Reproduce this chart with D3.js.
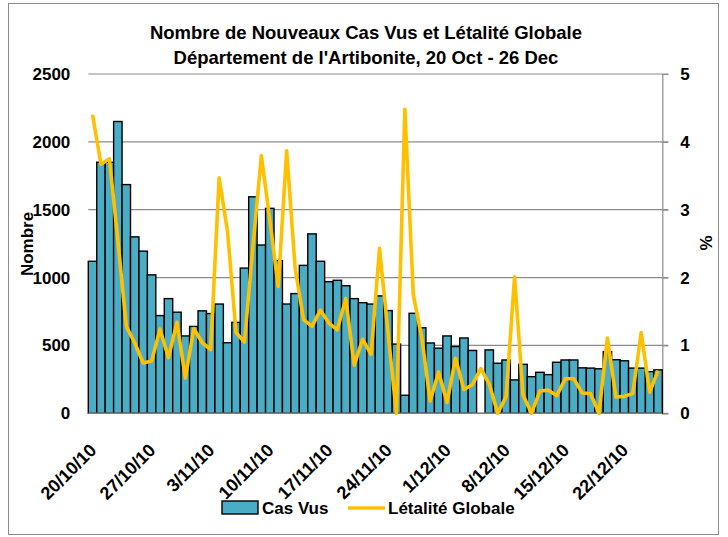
<!DOCTYPE html>
<html lang="fr">
<head>
<meta charset="UTF-8">
<title>Nombre de Nouveaux Cas Vus et Létalité Globale</title>
<script src="https://d3js.org/d3.v7.min.js"></script>
<style>
    body, html { margin: 0; padding: 0; background: #fff; }
    svg { display: block; font-family: "Liberation Sans", Arial, sans-serif; }
    .lbl { font-weight: bold; font-size: 17px; fill: #000; }
    .ttl { font-size: 18.5px; }
    .xl { font-size: 18px; }
</style>
</head>
<body>
<div id="chart"></div>
<script>
// daily values, 20 Oct -> 26 Dec 2010
const casVus = [
    1120, 1850, 1850, 2150, 1685, 1300, 1195, 1020, 720, 845,
    745, 570, 640, 755, 735, 805, 520, 670, 1070, 1595,
    1240, 1510, 1125, 805, 882, 1090, 1322, 1120, 970, 980,
    940, 845, 815, 805, 865, 757, 510, 133, 737, 630,
    518, 480, 570, 492, 555, 463, null, 467, 369, 393,
    246, 361, 270, 302, 285, 376, 393, 393, 335, 333,
    328, 455, 395, 387, 333, 333, 307, 320
];
const letalite = [
    4.40, 3.67, 3.75, 2.55, 1.28, 1.04, 0.74, 0.77, 1.24, 0.82,
    1.34, 0.52, 1.25, 1.04, 0.94, 3.47, 2.67, 1.19, 1.05, 2.45,
    3.80, 2.85, 1.87, 3.87, 2.14, 1.38, 1.28, 1.52, 1.33, 1.23,
    1.69, 0.71, 1.09, 0.87, 2.43, 1.20, 0, 4.48, 1.75, 1.12,
    0.18, 0.61, 0.16, 0.81, 0.35, 0.42, 0.66, 0.43, 0, 0.25,
    2.01, 0.27, 0, 0.33, 0.34, 0.26, 0.51, 0.51, 0.30, 0.29,
    0, 1.11, 0.24, 0.25, 0.29, 1.19, 0.31, 0.63
];
const tickLabels = ["20/10/10", "27/10/10", "3/11/10", "10/11/10", "17/11/10",
                    "24/11/10", "1/12/10", "8/12/10", "15/12/10", "22/12/10"];
const tickEvery = 7;
const leftTicks = [0, 500, 1000, 1500, 2000, 2500];
const rightTicks = [0, 1, 2, 3, 4, 5];

const W = 728, H = 537;
const plot = { left: 88.3, right: 662.3, top: 74, bottom: 413.3 };

const svg = d3.select("#chart").append("svg")
    .attr("width", W).attr("height", H);

// outer frame
svg.append("rect")
    .attr("x", 8.5).attr("y", 3.5)
    .attr("width", 710).attr("height", 531)
    .attr("fill", "#fff").attr("stroke", "#8c8c8c").attr("stroke-width", 1);

const x = d3.scaleBand()
    .domain(d3.range(casVus.length))
    .range([plot.left, plot.right])
    .padding(0);
const y = d3.scaleLinear().domain([0, 2500]).range([plot.bottom, plot.top]);
const y2 = d3.scaleLinear().domain([0, 5]).range([plot.bottom, plot.top]);

// title
const title = svg.append("text").attr("class", "lbl ttl")
    .attr("text-anchor", "middle").attr("x", 366);
title.append("tspan").attr("x", 366).attr("y", 39)
    .text("Nombre de Nouveaux Cas Vus et Létalité Globale");
title.append("tspan").attr("x", 366).attr("y", 64)
    .text("Département de l'Artibonite, 20 Oct - 26 Dec");

// gridlines
svg.append("g").selectAll("line")
    .data(leftTicks).enter().append("line")
    .attr("x1", plot.left).attr("x2", plot.right + 6)
    .attr("y1", d => y(d)).attr("y2", d => y(d))
    .attr("stroke", "#8c8c8c").attr("stroke-width", 1.2);

// right axis
const rAxis = svg.append("g")
    .attr("transform", `translate(${plot.right},0)`)
    .call(d3.axisRight(y2).tickValues(rightTicks).tickSize(6).tickPadding(12).tickFormat(d3.format("d")));
rAxis.select(".domain").attr("stroke", "#8c8c8c").attr("stroke-width", 1.2);
rAxis.selectAll(".tick line").attr("stroke", "#8c8c8c");
rAxis.selectAll("text").attr("class", "lbl").style("font-family", "inherit");

// left axis (labels only)
const lAxis = svg.append("g")
    .attr("transform", `translate(${plot.left},0)`)
    .call(d3.axisLeft(y).tickValues(leftTicks).tickSize(0).tickPadding(18).tickFormat(d3.format("d")));
lAxis.select(".domain").remove();
lAxis.selectAll("text").attr("class", "lbl").style("font-family", "inherit");

// bars
svg.append("g").selectAll("rect")
    .data(casVus.map((v, i) => ({ v, i })).filter(d => d.v != null))
    .enter().append("rect")
    .attr("x", d => x(d.i))
    .attr("y", d => y(d.v))
    .attr("width", x.bandwidth())
    .attr("height", d => y(0) - y(d.v))
    .attr("fill", "#4bacc6")
    .attr("stroke", "#000")
    .attr("stroke-width", 1.4);

// baseline
svg.append("line")
    .attr("x1", plot.left).attr("x2", plot.right)
    .attr("y1", y(0)).attr("y2", y(0))
    .attr("stroke", "#7f7f7f").attr("stroke-width", 1.5);

// line series
const line = d3.line()
    .x((d, i) => x(i) + x.bandwidth() / 2)
    .y(d => y2(d));
svg.append("path")
    .datum(letalite)
    .attr("d", line)
    .attr("fill", "none")
    .attr("stroke", "#ffc000")
    .attr("stroke-width", 3.6)
    .attr("stroke-linejoin", "round");

// x axis labels
const xAxis = svg.append("g")
    .attr("transform", `translate(0,${plot.bottom})`)
    .call(d3.axisBottom(x)
        .tickValues(tickLabels.map((t, k) => k * tickEvery))
        .tickFormat(i => tickLabels[i / tickEvery])
        .tickSize(0));
xAxis.select(".domain").remove();
xAxis.selectAll("text")
    .attr("class", "lbl xl")
    .style("font-family", "inherit")
    .attr("text-anchor", "end")
    .attr("dy", null)
    .attr("y", 0)
    .attr("transform", "translate(5,38) rotate(-45)");

// axis titles
svg.append("text").attr("class", "lbl")
    .attr("text-anchor", "middle")
    .attr("transform", "translate(33,244) rotate(-90)")
    .text("Nombre");
svg.append("text").attr("class", "lbl")
    .attr("text-anchor", "middle")
    .attr("transform", "translate(712,243) rotate(-90)")
    .text("%");

// legend
const lg = svg.append("g");
lg.append("rect")
    .attr("x", 222).attr("y", 501).attr("width", 36).attr("height", 13)
    .attr("fill", "#4bacc6").attr("stroke", "#000").attr("stroke-width", 1.4);
lg.append("text").attr("class", "lbl").attr("x", 262).attr("y", 514).text("Cas Vus");
lg.append("line")
    .attr("x1", 348).attr("x2", 385).attr("y1", 508).attr("y2", 508)
    .attr("stroke", "#ffc000").attr("stroke-width", 3.6);
lg.append("text").attr("class", "lbl").attr("x", 388).attr("y", 514).text("Létalité Globale");
</script>
</body>
</html>
